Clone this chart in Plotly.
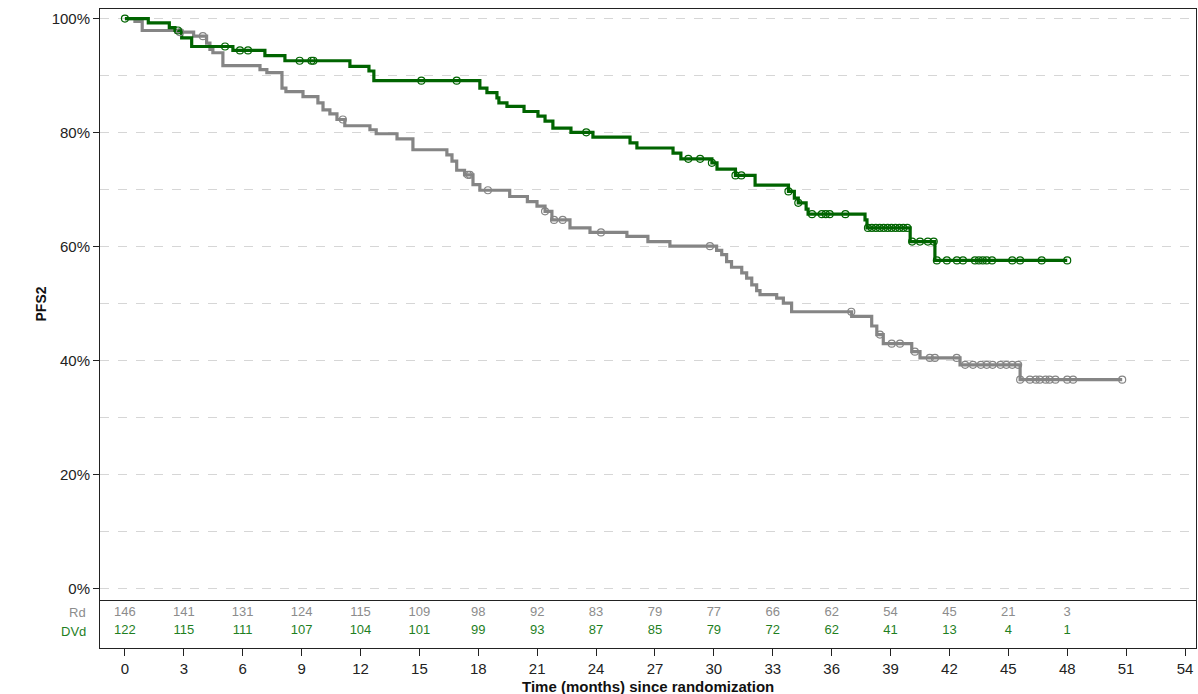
import plotly.graph_objects as go

# ---------------- data ----------------
# DVd (green) Kaplan-Meier steps: time (months), PFS2 (%)
dvd_t = [0, 1.19, 2.26, 2.55, 2.89, 3.40, 5.50, 7.13, 8.15, 11.46, 12.43, 12.68,
         18.08, 18.44, 18.95, 19.05, 19.46, 20.33, 21.04, 21.40, 21.80, 22.72,
         23.84, 25.73, 26.08, 27.92, 28.32, 29.90, 30.16, 31.1, 32.1, 33.8, 34.1,
         34.3, 34.7, 34.8, 37.7, 37.8, 40.0, 41.26, 48.0]
dvd_s = [100, 99.25, 98.4, 97.9, 96.6, 95.1, 94.4, 93.5, 92.6, 91.6, 90.8, 89.1,
         87.8, 87.0, 86.1, 85.2, 84.6, 83.7, 82.9, 82.0, 80.8, 80.05,
         79.2, 78.2, 77.3, 76.4, 75.4, 74.7, 73.6, 72.5, 70.8, 69.7, 68.5,
         67.7, 66.6, 65.7, 64.7, 63.3, 60.9, 57.6, 57.6]
# DVd censored observations
dvd_ct = [0, 2.7, 5.1, 5.86, 6.27, 8.9, 9.5, 9.6, 15.1, 16.9, 23.5, 28.7, 29.3, 29.9,
          31.1, 31.4, 33.8, 34.3, 35.0, 35.5, 35.7, 35.9, 36.7,
          37.85, 38.05, 38.25, 38.45, 38.65, 38.85, 39.05, 39.25, 39.45, 39.65, 39.85,
          40.1, 40.5, 40.9, 41.2,
          41.36, 41.87, 42.38, 42.69, 43.3, 43.5, 43.7, 43.9, 44.17, 45.2, 45.6, 46.7, 48.0]
dvd_cs = [100, 97.9, 95.1, 94.4, 94.4, 92.6, 92.6, 92.6, 89.1, 89.1, 80.05, 75.4, 75.4, 74.7,
          72.5, 72.5, 69.7, 67.7, 65.7, 65.7, 65.7, 65.7, 65.7,
          63.3, 63.3, 63.3, 63.3, 63.3, 63.3, 63.3, 63.3, 63.3, 63.3, 63.3,
          60.9, 60.9, 60.9, 60.9,
          57.6, 57.6, 57.6, 57.6, 57.6, 57.6, 57.6, 57.6, 57.6, 57.6, 57.6, 57.6, 57.6]

# Rd (gray) Kaplan-Meier steps
rd_t = [0, 0.51, 0.88, 2.6, 3.5, 4.16, 4.33, 4.48, 4.99, 6.88, 7.23, 8.0, 8.2, 9.07,
        9.83, 10.09, 10.44, 10.8, 11.2, 12.48, 12.8, 13.86, 14.67, 16.4, 16.66, 16.9,
        17.3, 17.73, 18.08, 19.6, 20.5, 20.99, 21.4, 21.75, 22.67, 23.69, 25.57, 26.64,
        27.76, 30.14, 30.4, 30.65, 30.9, 31.42, 31.67, 31.93, 32.18, 32.35, 33.2, 33.54,
        33.96, 37.02, 38.04, 38.3, 38.63, 40.08, 40.5, 42.54, 45.6, 50.8]
rd_s = [100, 99.5, 97.9, 97.6, 96.9, 95.7, 94.6, 94.0, 91.75, 91.05, 90.5, 87.8, 87.2, 86.3,
        85.2, 84.0, 83.3, 82.3, 81.2, 80.5, 79.8, 78.9, 77.0, 76.1, 75.0, 73.4,
        72.6, 70.9, 69.9, 68.8, 67.9, 67.1, 66.2, 64.7, 63.3, 62.5, 61.8, 60.9,
        60.1, 59.35, 58.6, 57.4, 56.4, 55.4, 54.5, 53.3, 52.3, 51.6, 51.0, 50.1,
        48.6, 47.8, 46.1, 44.6, 43.0, 41.6, 40.5, 39.3, 36.7, 36.7]
# Rd censored observations
rd_ct = [2.8, 3.97, 11.1, 17.47, 17.57, 18.49, 21.4, 21.86, 22.3, 24.25, 29.8, 37.0,
         38.46, 39.06, 39.48, 40.24, 41.0, 41.26, 42.37,
         42.8, 43.2, 43.6, 43.9, 44.2, 44.6, 44.9, 45.2, 45.5,
         45.6, 46.1, 46.4, 46.6, 46.9, 47.1, 47.4, 48.0, 48.3, 50.8]
rd_cs = [97.6, 96.9, 82.3, 72.6, 72.6, 69.9, 66.2, 64.7, 64.7, 62.5, 60.1, 48.6,
         44.6, 43.0, 43.0, 41.6, 40.5, 40.5, 40.5,
         39.3, 39.3, 39.3, 39.3, 39.3, 39.3, 39.3, 39.3, 39.3,
         36.7, 36.7, 36.7, 36.7, 36.7, 36.7, 36.7, 36.7, 36.7, 36.7]

# Number at risk table
risk_times = [0, 3, 6, 9, 12, 15, 18, 21, 24, 27, 30, 33, 36, 39, 42, 45, 48]
risk_rd = [146, 141, 131, 124, 115, 109, 98, 92, 83, 79, 77, 66, 62, 54, 45, 21, 3]
risk_dvd = [122, 115, 111, 107, 104, 101, 99, 93, 87, 85, 79, 72, 62, 41, 13, 4, 1]
risk_rows = ["Rd", "DVd"]

x_ticks = list(range(0, 55, 3))
y_ticks = [0, 20, 40, 60, 80, 100]
y_ticktext = ["0%", "20%", "40%", "60%", "80%", "100%"]

# ---------------- style ----------------
GREEN = "#006400"
GREEN_TXT = "#1f7f1f"
GRAY = "#858585"
FONT = "Liberation Sans, Arial, sans-serif"
W, H = 1198, 694
ML, MR, MT, MB = 100, 2, 9, 46
plot_h = H - MT - MB
table_px = 48
split = table_px / plot_h

fig = go.Figure()

fig.add_trace(go.Scatter(x=rd_t, y=rd_s, mode="lines", line=dict(color=GRAY, width=3.2, shape="hv"),
                         xaxis="x2", yaxis="y", showlegend=False, hoverinfo="skip"))
fig.add_trace(go.Scatter(x=dvd_t, y=dvd_s, mode="lines", line=dict(color=GREEN, width=3.2, shape="hv"),
                         xaxis="x2", yaxis="y", showlegend=False, hoverinfo="skip"))
fig.add_trace(go.Scatter(x=rd_ct, y=rd_cs, mode="markers",
                         marker=dict(symbol="circle-open", size=7, color=GRAY, line=dict(width=1.2)),
                         xaxis="x2", yaxis="y", showlegend=False))
fig.add_trace(go.Scatter(x=dvd_ct, y=dvd_cs, mode="markers",
                         marker=dict(symbol="circle-open", size=7, color=GREEN, line=dict(width=1.2)),
                         xaxis="x2", yaxis="y", showlegend=False))

# risk table
fig.add_trace(go.Scatter(x=risk_times, y=[0.73] * len(risk_times), mode="text",
                         text=[str(v) for v in risk_rd],
                         textfont=dict(family=FONT, size=13, color="#8c8c8c"),
                         xaxis="x", yaxis="y2", showlegend=False, hoverinfo="skip"))
fig.add_trace(go.Scatter(x=risk_times, y=[0.35] * len(risk_times), mode="text",
                         text=[str(v) for v in risk_dvd],
                         textfont=dict(family=FONT, size=13, color=GREEN_TXT),
                         xaxis="x", yaxis="y2", showlegend=False, hoverinfo="skip"))

xr = [-1.27, 54.56]
fig.update_layout(
    width=W, height=H,
    margin=dict(l=ML, r=MR, t=MT, b=MB, autoexpand=False),
    paper_bgcolor="white", plot_bgcolor="white",
    font=dict(family=FONT, size=14, color="#222"),
    xaxis=dict(domain=[0, 1], anchor="y2", range=xr, tickvals=x_ticks,
               ticks="outside", ticklen=7, tickcolor="#222", tickwidth=1,
               showline=True, linecolor="#222", linewidth=1, mirror=False,
               showgrid=False, zeroline=False, tickfont=dict(size=15), automargin=False),
    xaxis2=dict(domain=[0, 1], anchor="y", matches="x", range=xr, showticklabels=False,
                ticks="", showline=True, linecolor="#222", linewidth=1, mirror=True,
                showgrid=False, zeroline=False, automargin=False),
    yaxis=dict(domain=[split, 1], anchor="x2", range=[-1.93, 101.67],
               tickvals=y_ticks, ticktext=y_ticktext,
               ticks="outside", ticklen=6, tickcolor="#222",
               showline=True, linecolor="#222", linewidth=1, mirror=True,
               showgrid=True, gridcolor="#d6d6d6", griddash="dash", gridwidth=1,
               minor=dict(tickvals=[10, 30, 50, 70, 90], showgrid=True, gridcolor="#d6d6d6",
                          griddash="dash", gridwidth=1, ticks=""),
               zeroline=False, tickfont=dict(size=15), automargin=False),
    yaxis2=dict(domain=[0, split], anchor="x", range=[0, 1], showticklabels=False,
                ticks="", showline=True, linecolor="#222", linewidth=1, mirror=True,
                showgrid=False, zeroline=False, automargin=False),
    annotations=[
        dict(text="<b>PFS2</b>", xref="paper", yref="paper", x=0, y=(split + 1) / 2,
             xanchor="center", yanchor="middle", xshift=-60, textangle=-90,
             showarrow=False, font=dict(size=14, color="#111")),
        dict(text="<b>Time (months) since randomization</b>", xref="paper", yref="paper",
             x=0.5, y=0, xanchor="center", yanchor="middle", yshift=-38,
             showarrow=False, font=dict(size=15, color="#111")),
        dict(text=risk_rows[0], xref="paper", yref="y2", x=0, y=0.73, xanchor="right",
             yanchor="middle", xshift=-12, showarrow=False,
             font=dict(size=13, color="#8c8c8c")),
        dict(text=risk_rows[1], xref="paper", yref="y2", x=0, y=0.35, xanchor="right",
             yanchor="middle", xshift=-12, showarrow=False,
             font=dict(size=13, color=GREEN_TXT)),
    ],
)

fig.write_html("out.html", config={"displayModeBar": False},
               post_script="document.body.style.margin='0';document.body.style.overflow='hidden';")
